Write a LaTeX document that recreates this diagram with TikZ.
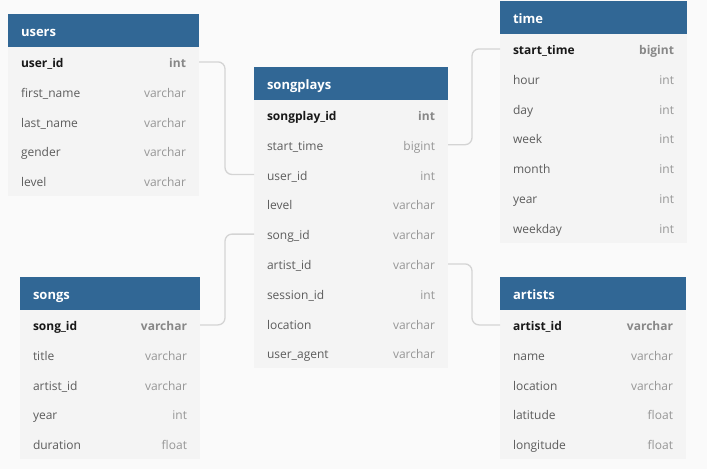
\documentclass[tikz,border=0pt]{standalone}
\usepackage{fontspec}
\setmainfont{Open Sans}
\usetikzlibrary{positioning}
\definecolor{hdblue}{RGB}{49,103,149}
\definecolor{bggray}{RGB}{250,250,250}
\definecolor{bodygray}{RGB}{244,244,244}
\definecolor{namegray}{RGB}{92,92,92}
\definecolor{typegray}{RGB}{150,150,150}
\definecolor{keyblack}{RGB}{24,24,24}
\definecolor{keytype}{RGB}{135,135,135}
\definecolor{linkgray}{RGB}{212,212,212}

\begin{document}
\begin{tikzpicture}[x=1pt, y=-1pt,
	hd/.style={fill=hdblue, text=white, font=\fontsize{13}{15}\selectfont\bfseries, anchor=north west,
		minimum height=33pt, text width=#1, inner xsep=13pt, inner ysep=0pt, outer sep=0pt,
		text height=12.5pt, text depth=0pt},
	fld/.style={fill=bodygray, text=namegray, font=\fontsize{12}{14}\selectfont,
		minimum height=29.8pt, text width=#1, inner xsep=13pt, inner ysep=0pt, outer sep=0pt,
		text height=11pt, text depth=0pt},
	key/.style={text=keyblack, font=\fontsize{12}{14}\selectfont\bfseries},
	link/.style={draw=linkgray, line width=1.3pt, rounded corners=7pt}]
\fill[bggray] (0,0) rectangle (707,469);

% users
\node[hd=165pt] (users) at (8,14) {users};
\node[fld=165pt, key, below=0pt of users] (u1) {user\_id\hfill\textcolor{keytype}{int}};
\foreach \n/\t [count=\i from 2, evaluate=\i as \j using int(\i-1)] in
	{first\_name/varchar, last\_name/varchar, gender/varchar, level/varchar}
	\node[fld=165pt, below=0pt of u\j] (u\i) {\n\hfill\textcolor{typegray}{\t}};

% songplays
\node[hd=168pt] (songplays) at (254,67) {songplays};
\node[fld=168pt, key, below=0pt of songplays] (p1) {songplay\_id\hfill\textcolor{keytype}{int}};
\foreach \n/\t [count=\i from 2, evaluate=\i as \j using int(\i-1)] in
	{start\_time/bigint, user\_id/int, level/varchar, song\_id/varchar, artist\_id/varchar,
	 session\_id/int, location/varchar, user\_agent/varchar}
	\node[fld=168pt, below=0pt of p\j] (p\i) {\n\hfill\textcolor{typegray}{\t}};

% time
\node[hd=161pt] (time) at (500,1) {time};
\node[fld=161pt, key, below=0pt of time] (t1) {start\_time\hfill\textcolor{keytype}{bigint}};
\foreach \n [count=\i from 2, evaluate=\i as \j using int(\i-1)] in
	{hour, day, week, month, year, weekday}
	\node[fld=161pt, below=0pt of t\j] (t\i) {\n\hfill\textcolor{typegray}{int}};

% songs
\node[hd=154pt] (songs) at (20,277) {songs};
\node[fld=154pt, key, below=0pt of songs] (s1) {song\_id\hfill\textcolor{keytype}{varchar}};
\foreach \n/\t [count=\i from 2, evaluate=\i as \j using int(\i-1)] in
	{title/varchar, artist\_id/varchar, year/int, duration/float}
	\node[fld=154pt, below=0pt of s\j] (s\i) {\n\hfill\textcolor{typegray}{\t}};

% artists
\node[hd=160pt] (artists) at (500,277) {artists};
\node[fld=160pt, key, below=0pt of artists] (a1) {artist\_id\hfill\textcolor{keytype}{varchar}};
\foreach \n/\t [count=\i from 2, evaluate=\i as \j using int(\i-1)] in
	{name/varchar, location/varchar, latitude/float, longitude/float}
	\node[fld=160pt, below=0pt of a\j] (a\i) {\n\hfill\textcolor{typegray}{\t}};

% references
\draw[link] (u1.east) -- ++(26,0) |- (p3.west);
\draw[link] (s1.east) -- ++(25,0) |- (p5.west);
\draw[link] (p2.east) -- ++(24,0) |- (t1.west);
\draw[link] (p6.east) -- ++(24,0) |- (a1.west);
\end{tikzpicture}
\end{document}
